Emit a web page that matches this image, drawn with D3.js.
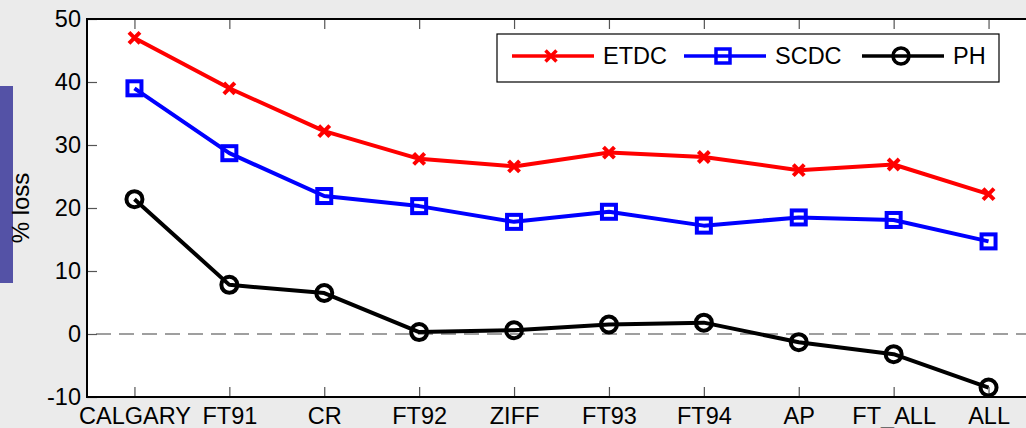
<!DOCTYPE html>
<html>
<head>
<meta charset="utf-8">
<script src="https://cdn.jsdelivr.net/npm/d3@7"></script>
<style>
	html, body { margin: 0; padding: 0; background: #ebebeb; overflow: hidden; }
	svg { display: block; font-family: "Liberation Sans", Arial, sans-serif; }
</style>
</head>
<body>
<svg id="chart" width="1026" height="428"></svg>
<script>
	var categories = ["CALGARY", "FT91", "CR", "FT92", "ZIFF", "FT93", "FT94", "AP", "FT_ALL", "ALL"];
	var etdc = [47.0, 39.0, 32.2, 27.8, 26.6, 28.8, 28.1, 26.0, 26.9, 22.2];
	var scdc = [39.0, 28.7, 21.9, 20.3, 17.8, 19.4, 17.2, 18.5, 18.1, 14.7];
	var ph = [21.4, 7.8, 6.5, 0.3, 0.6, 1.5, 1.8, -1.3, -3.2, -8.5];
	var yTicks = [-10, 0, 10, 20, 30, 40, 50];

	var margin = {top: 19, right: -10, bottom: 31, left: 87},
		width = 1026 - margin.left - margin.right,
		height = 428 - margin.top - margin.bottom;

	var fontSize = "23.5px";

	var svg = d3.select("#chart");

	// side box on the left
	svg.append("rect")
		.attr("x", 0).attr("y", 86)
		.attr("width", 13).attr("height", 197)
		.attr("fill", "#5452a6");

	var g = svg.append("g")
		.attr("transform", "translate(" + margin.left + "," + margin.top + ")");

	var x = d3.scaleLinear().domain([0.5, 10.5]).range([0, width]);
	var y = d3.scaleLinear().domain([-10, 50]).range([height, 0]);

	g.append("rect")
		.attr("width", width).attr("height", height)
		.attr("fill", "#fff");

	// zero line
	g.append("line")
		.attr("x1", 0).attr("x2", width)
		.attr("y1", y(0)).attr("y2", y(0))
		.attr("stroke", "#808080")
		.attr("stroke-width", 1.5)
		.attr("stroke-dasharray", "15,8")
		.attr("stroke-dashoffset", -9);

	//  axes with inward ticks
	var idx = categories.map(function(d, i) { return i + 1; });
	var xBottom = g.append("g")
		.attr("transform", "translate(0," + height + ")")
		.call(d3.axisBottom(x).tickValues(idx).tickSize(-10).tickPadding(10)
			.tickFormat(function(d) { return categories[d - 1]; }));
	var xTop = g.append("g")
		.call(d3.axisTop(x).tickValues(idx).tickSize(-10).tickFormat(""));
	var yLeft = g.append("g")
		.call(d3.axisLeft(y).tickValues(yTicks).tickSize(-10).tickPadding(6)
			.tickFormat(function(d) { return String(d); }));
	var yRight = g.append("g")
		.attr("transform", "translate(" + width + ",0)")
		.call(d3.axisRight(y).tickValues(yTicks).tickSize(-10).tickFormat(""));

	[xBottom, xTop, yLeft, yRight].forEach(function(a) {
		a.select(".domain").remove();
		a.selectAll(".tick line").attr("stroke", "#555").attr("stroke-width", 1.2);
		a.selectAll(".tick text")
			.attr("fill", "#000")
			.style("font-size", fontSize);
	});

	g.append("rect")
		.attr("width", width).attr("height", height)
		.attr("fill", "none")
		.attr("stroke", "#000")
		.attr("stroke-width", 2);

	svg.append("text")
		.attr("transform", "translate(29,208) rotate(-90)")
		.attr("text-anchor", "middle")
		.style("font-size", "24px")
		.text("% loss");

	var series = [
		{name: "ETDC", values: etdc, color: "#ff0000", marker: "x"},
		{name: "SCDC", values: scdc, color: "#0000ff", marker: "square"},
		{name: "PH", values: ph, color: "#000000", marker: "circle"}
	];

	function drawMarker(sel, type, color, w) {
		if (type === "x") {
			sel.append("path")
				.attr("d", "M-5.5,-5.5L5.5,5.5M-5.5,5.5L5.5,-5.5")
				.attr("stroke", color).attr("stroke-width", w).attr("fill", "none");
		} else if (type === "square") {
			sel.append("rect")
				.attr("x", -7).attr("y", -7).attr("width", 14).attr("height", 14)
				.attr("stroke", color).attr("stroke-width", w).attr("fill", "none");
		} else {
			sel.append("circle")
				.attr("r", 8)
				.attr("stroke", color).attr("stroke-width", w).attr("fill", "none");
		}
	}

	var line = d3.line()
		.x(function(d, i) { return x(i + 1); })
		.y(function(d) { return y(d); });

	series.forEach(function(s) {
		g.append("path")
			.datum(s.values)
			.attr("d", line)
			.attr("fill", "none")
			.attr("stroke", s.color)
			.attr("stroke-width", 4)
			.attr("stroke-linejoin", "round");
		g.selectAll(".m-" + s.name)
			.data(s.values)
			.enter().append("g")
			.attr("class", "m-" + s.name)
			.attr("transform", function(d, i) {
				return "translate(" + x(i + 1) + "," + y(d) + ")";
			})
			.each(function() { drawMarker(d3.select(this), s.marker, s.color, 4); });
	});

	//  legend
	var legend = svg.append("g").attr("transform", "translate(497,34)");
	legend.append("rect")
		.attr("width", 502).attr("height", 48)
		.attr("fill", "#fff").attr("stroke", "#000").attr("stroke-width", 1.2);
	var offsets = [15, 187, 365];
	series.forEach(function(s, i) {
		var e = legend.append("g").attr("transform", "translate(" + offsets[i] + ",22)");
		e.append("line")
			.attr("x1", 0).attr("x2", 82)
			.attr("stroke", s.color).attr("stroke-width", 3.5);
		var m = e.append("g").attr("transform", "translate(39,0)");
		drawMarker(m, s.marker, s.color, 3.5);
		e.append("text")
			.attr("x", 91).attr("dy", "0.36em")
			.style("font-size", fontSize)
			.text(s.name);
	});
</script>
</body>
</html>
